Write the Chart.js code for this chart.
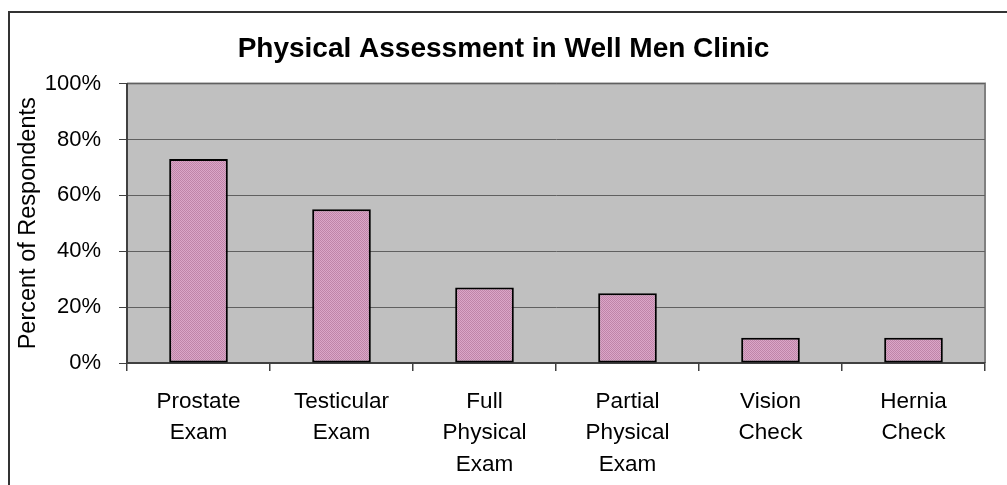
<!DOCTYPE html>
<html>
<head>
<meta charset="utf-8">
<title>Physical Assessment in Well Men Clinic</title>
<script src="https://cdn.jsdelivr.net/npm/chart.js@4"></script>
<style>
  html, body { margin: 0; padding: 0; background: #fff; overflow: hidden; }
  #frame { position: absolute; left: 8px; top: 11px; width: 1100px; height: 600px; border: 2px solid #333; }
  #chart { position: absolute; left: 0; top: 0; }
</style>
</head>
<body>
<div id="frame"></div>
<canvas id="chart" width="1007" height="485"></canvas>
<script>
// data
const categories = [
  ['Prostate', 'Exam'],
  ['Testicular', 'Exam'],
  ['Full', 'Physical', 'Exam'],
  ['Partial', 'Physical', 'Exam'],
  ['Vision', 'Check'],
  ['Hernia', 'Check'],
];
const percentValues = [73, 55, 27, 25, 9, 9];
const yTicks = [0, 20, 40, 60, 80, 100];

const FONT = 'Liberation Sans, Arial, sans-serif';

// dithered pink fill like the old spreadsheet pattern
function makePattern() {
  const c = document.createElement('canvas');
  c.width = 2; c.height = 2;
  const g = c.getContext('2d');
  g.fillStyle = '#DBA6C8';
  g.fillRect(0, 0, 2, 2);
  g.fillStyle = '#BF84A8';
  g.fillRect(0, 0, 1, 1);
  g.fillRect(1, 1, 1, 1);
  return g.createPattern(c, 'repeat');
}

// grey plot area with its grey top/right edges
const plotBg = {
  id: 'plotBg',
  afterLayout(chart) {
    // title is centred on the whole canvas, not the padded area
    const t = chart.titleBlock;
    if (t) { t.left = 0; t.right = chart.width; t.width = chart.width; }
  },
  beforeDraw(chart) {
    const { ctx, chartArea: a } = chart;
    ctx.save();
    ctx.fillStyle = '#C0C0C0';
    ctx.fillRect(a.left, a.top, a.right - a.left, a.bottom - a.top);
    ctx.strokeStyle = '#808080';
    ctx.lineWidth = 2;
    ctx.beginPath();
    ctx.moveTo(a.left, a.top);
    ctx.lineTo(a.right, a.top);
    ctx.lineTo(a.right, a.bottom);
    ctx.stroke();
    ctx.restore();
  }
};

new Chart(document.getElementById('chart'), {
  type: 'bar',
  data: {
    labels: categories,
    datasets: [{
      data: percentValues,
      backgroundColor: makePattern(),
      borderColor: '#000',
      borderWidth: 2,
      borderSkipped: false,
      categoryPercentage: 1,
      barPercentage: 0.41,
    }],
  },
  options: {
    responsive: false,
    devicePixelRatio: 1,
    animation: false,
    layout: { padding: { left: 0, right: 22, top: 0, bottom: 0 } },
    plugins: {
      legend: { display: false },
      tooltip: { enabled: false },
      title: {
        display: true,
        text: 'Physical Assessment in Well Men Clinic',
        color: '#000',
        font: { family: FONT, size: 28, weight: 'bold', lineHeight: 1.2 },
        padding: { top: 32, bottom: 18 },
      },
    },
    scales: {
      x: {
        offset: true,
        grid: { offset: true, drawOnChartArea: false, tickLength: 8, color: '#404040', lineWidth: 1.5 },
        border: { display: true, color: '#404040', width: 2 },
        ticks: {
          color: '#000',
          padding: 15,
          maxRotation: 0,
          autoSkip: false,
          font: { family: FONT, size: 22.5, lineHeight: 1.4 },
        },
        afterFit(scale) { scale.height = 122; },
      },
      y: {
        min: 0,
        max: 100,
        afterBuildTicks(scale) { scale.ticks = yTicks.map(v => ({ value: v })); },
        grid: { color: '#606060', lineWidth: 1, tickLength: 8, tickColor: '#404040' },
        border: { display: true, color: '#404040', width: 2 },
        ticks: {
          color: '#000',
          padding: 18,
          font: { family: FONT, size: 22 },
          callback: v => v + '%',
        },
        title: {
          display: true,
          text: 'Percent of Respondents',
          color: '#000',
          font: { family: FONT, size: 23.5, lineHeight: 1.2 },
          padding: { top: 14, bottom: 0 },
        },
        afterFit(scale) { scale.width = 127; },
      },
    },
  },
  plugins: [plotBg],
});
</script>
</body>
</html>
